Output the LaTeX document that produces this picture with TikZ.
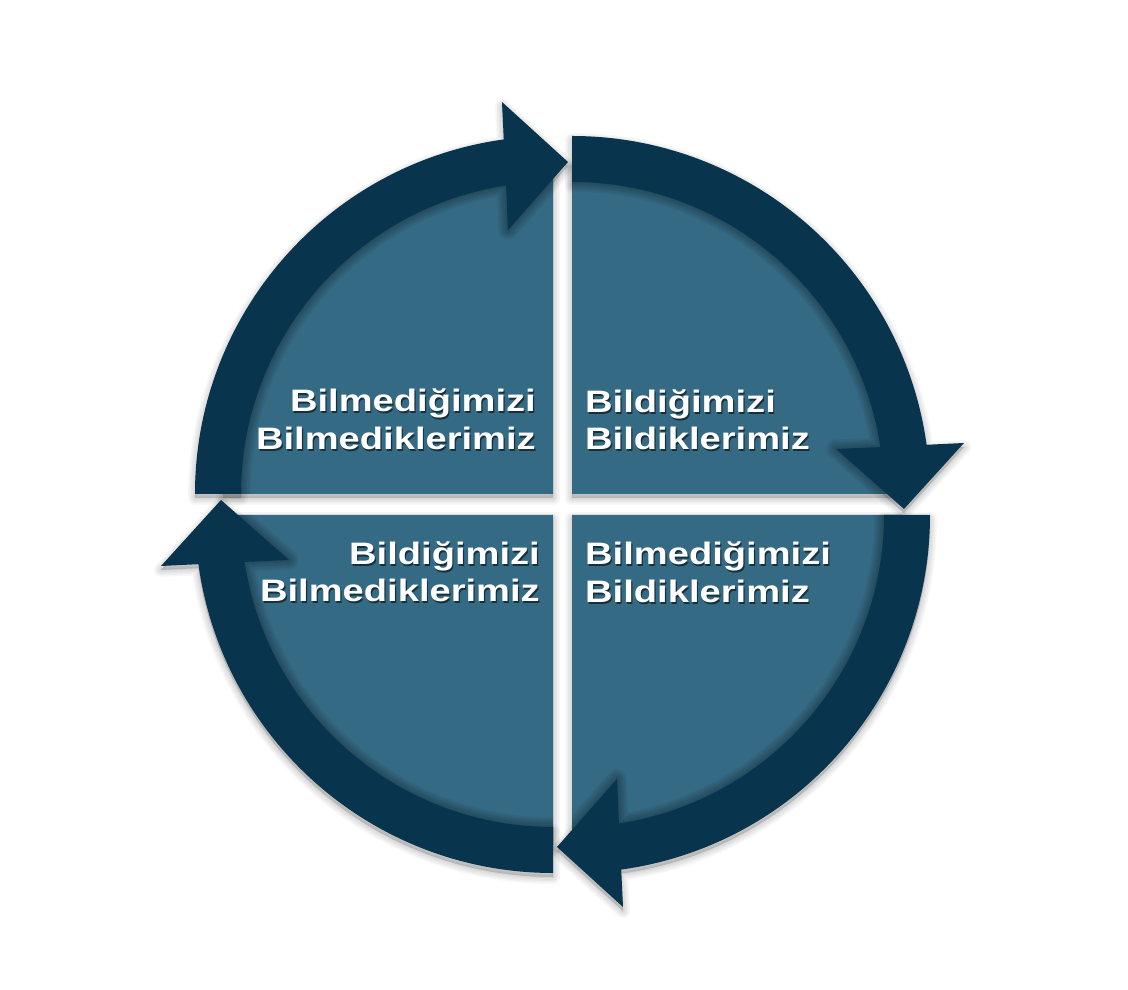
\documentclass[tikz,border=0pt]{standalone}
\usepackage{fontspec}
\newfontfamily\lblfont[FakeStretch=1.23]{Liberation Sans}
\definecolor{bandc}{HTML}{08344D}
\definecolor{fillc}{HTML}{356A84}
\def\quadfill{(0,0) -- (180:330) arc[start angle=180,end angle=90,radius=330] -- cycle}
\def\bandarrow{(180:358) arc[start angle=180,end angle=97.9,radius=358] -- (-51,392) -- (15,332) -- (-45,264) -- (98.65:312) arc[start angle=98.65,end angle=180,radius=312] -- cycle}
\newcommand\drawquad[3]{%
  \begin{scope}[shift={(#1,#2-4)}, rotate=#3]
    \foreach \w in {2,5,8,11,14} {
      \filldraw[black, opacity=0.03, line width=\w pt, line join=round] \quadfill;
      \filldraw[black, opacity=0.03, line width=\w pt, line join=round] \bandarrow;
    }
  \end{scope}
  \begin{scope}[shift={(#1,#2)}, rotate=#3]
    \fill[fillc] \quadfill;
    \begin{scope}
      \clip \quadfill;
      \foreach \w in {3,7,11,15,19} \draw[black, opacity=0.06, line width=\w pt, line join=round] \bandarrow;
    \end{scope}
    \fill[bandc] \bandarrow;
  \end{scope}
}
\newcommand\lbltext[5]{%
  \node[lblshadow, anchor=#2] (#1s) at (#3+1.2,#4-1.5) {#5};
  \node[lbl, anchor=#2] (#1) at (#3,#4) {#5};
}
\tikzset{
  lbl/.style={inner sep=0pt, text=white, font=\lblfont\bfseries\fontsize{31}{37}\selectfont},
  lblshadow/.style={lbl, text=black, opacity=0.55}
}
\begin{document}
\begin{tikzpicture}[x=1pt,y=1pt]
\fill[white] (0,0) rectangle (1128,990);
\useasboundingbox (0,0) rectangle (1128,990);
\drawquad{553}{496}{0}
\drawquad{572}{496}{-90}
\drawquad{572}{475}{180}
\drawquad{553}{475}{90}
% top-left
\lbltext{tla}{base east}{536}{578}{Bilmediğimizi}
\lbltext{tlb}{base east}{536}{540}{Bilmediklerimiz}
% top-right
\lbltext{tra}{base west}{585}{577}{Bildiğimizi}
\lbltext{trb}{base west}{585}{540}{Bildiklerimiz}
% bottom-left
\lbltext{bla}{base east}{540}{425}{Bildiğimizi}
\lbltext{blb}{base east}{540}{388}{Bilmediklerimiz}
% bottom-right
\lbltext{bra}{base west}{585}{425}{Bilmediğimizi}
\lbltext{brb}{base west}{585}{387}{Bildiklerimiz}
\end{tikzpicture}
\end{document}
